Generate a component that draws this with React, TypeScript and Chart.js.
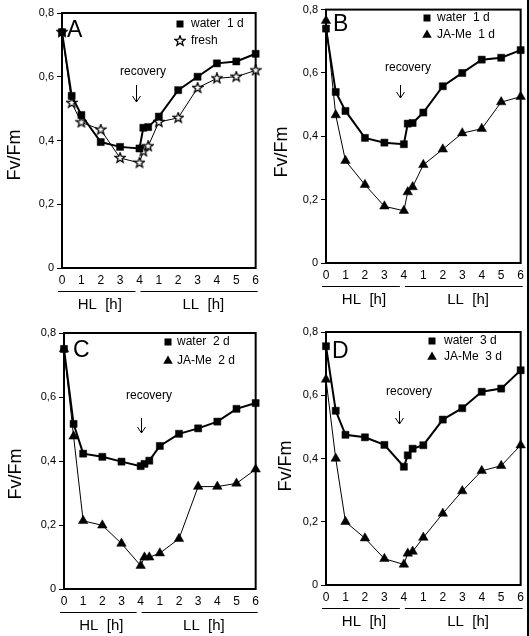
import React, { useEffect, useRef } from 'react';
import { Chart, registerables } from 'chart.js';
Chart.register(...registerables);

// ---- data ----
const hlHours = [0, 0.5, 1, 2, 3, 4];
const llHours = [0.2, 0.45, 1, 2, 3, 4, 5, 6];
const xTickLabels = ['0', '1', '2', '3', '4', '1', '2', '3', '4', '5', '6'];
const yTickLabels = ['0', '0,2', '0,4', '0,6', '0,8'];

const water1d = [0.74, 0.54, 0.48, 0.395, 0.38, 0.375, 0.44, 0.442, 0.475, 0.558, 0.6, 0.642, 0.648, 0.672];
const fresh = [0.74, 0.518, 0.457, 0.434, 0.345, 0.33, 0.366, 0.382, 0.458, 0.471, 0.565, 0.595, 0.6, 0.62];
const jaMe1d = [0.765, 0.467, 0.323, 0.247, 0.179, 0.165, 0.224, 0.24, 0.31, 0.359, 0.41, 0.424, 0.508, 0.525];
const water2d = [0.75, 0.516, 0.423, 0.413, 0.398, 0.384, 0.391, 0.401, 0.447, 0.485, 0.502, 0.523, 0.563, 0.581];
const jaMe2d = [0.75, 0.477, 0.213, 0.199, 0.142, 0.073, 0.099, 0.099, 0.112, 0.157, 0.32, 0.32, 0.33, 0.374];
const water3d = [0.755, 0.551, 0.475, 0.467, 0.443, 0.374, 0.41, 0.431, 0.442, 0.523, 0.559, 0.611, 0.621, 0.679];
const jaMe3d = [0.65, 0.4, 0.2, 0.148, 0.083, 0.065, 0.1, 0.106, 0.15, 0.226, 0.297, 0.361, 0.377, 0.442];

const xPositions = [...hlHours, ...llHours.map((h) => 4 + h)];

const FONT = "'Liberation Sans', Arial, Helvetica, sans-serif";

function makeStar(size: number) {
  const c = document.createElement('canvas');
  c.width = size;
  c.height = size;
  const ctx = c.getContext('2d')!;
  const cx = size / 2, cy = size / 2, R = size / 2 - 0.8, r = R * 0.42;
  ctx.beginPath();
  for (let i = 0; i < 10; i++) {
    const ang = -Math.PI / 2 + (i * Math.PI) / 5;
    const rad = i % 2 === 0 ? R : r;
    ctx.lineTo(cx + rad * Math.cos(ang), cy + rad * Math.sin(ang));
  }
  ctx.closePath();
  ctx.fillStyle = '#fff';
  ctx.fill();
  ctx.strokeStyle = '#000';
  ctx.lineWidth = 1.3;
  ctx.stroke();
  return c;
}

type Series = { label: string; values: number[]; style: string; thick: boolean };

const panels = [
  {
    letter: 'A', left: 0, top: 0, w: 264, h: 318,
    area: { l: 62, r: 257, t: 13, b: 268 },
    series: [
      { label: 'water  1 d', values: water1d, style: 'rect', thick: true },
      { label: 'fresh', values: fresh, style: 'star', thick: false },
    ] as Series[],
    legend: { x: 180, y: 24, tx: 191, dy: 17 },
    letterPos: { x: 67, y: 37 },
    yTitle: { x: 15, y: 155 },
    rec: { tx: 143, ty: 72, ax: 136, ay1: 85, ay2: 102 },
  },
  {
    letter: 'B', left: 264, top: 0, w: 265, h: 318,
    area: { l: 62, r: 258, t: 7, b: 263 },
    series: [
      { label: 'water  1 d', values: water1d, style: 'rect', thick: true },
      { label: 'JA-Me  1 d', values: jaMe1d, style: 'triangle', thick: false },
    ] as Series[],
    legend: { x: 163, y: 18, tx: 173, dy: 17 },
    letterPos: { x: 69, y: 31 },
    yTitle: { x: 18, y: 152 },
    rec: { tx: 144, ty: 68, ax: 136, ay1: 85, ay2: 98 },
  },
  {
    letter: 'C', left: 0, top: 318, w: 264, h: 318,
    area: { l: 64, r: 257, t: 15, b: 271 },
    series: [
      { label: 'water  2 d', values: water2d, style: 'rect', thick: true },
      { label: 'JA-Me  2 d', values: jaMe2d, style: 'triangle', thick: false },
    ] as Series[],
    legend: { x: 168, y: 24, tx: 177, dy: 19 },
    letterPos: { x: 73, y: 39 },
    yTitle: { x: 16, y: 156 },
    rec: { tx: 149, ty: 78, ax: 141, ay1: 100, ay2: 115 },
  },
  {
    letter: 'D', left: 264, top: 318, w: 265, h: 318,
    area: { l: 62, r: 257, t: 14, b: 267 },
    series: [
      { label: 'water  3 d', values: water3d, style: 'rect', thick: true },
      { label: 'JA-Me  3 d', values: jaMe3d, style: 'triangle', thick: false },
    ] as Series[],
    legend: { x: 168, y: 23, tx: 180, dy: 16 },
    letterPos: { x: 68, y: 40 },
    yTitle: { x: 22, y: 148 },
    rec: { tx: 145, ty: 74, ax: 135, ay1: 93, ay2: 106 },
  },
];

function drawMarker(ctx: CanvasRenderingContext2D, style: string, x: number, y: number, star: HTMLCanvasElement) {
  ctx.save();
  ctx.fillStyle = '#000';
  if (style === 'rect') {
    ctx.fillRect(x - 3.5, y - 3.5, 7, 7);
  } else if (style === 'triangle') {
    const r = 5.5;
    ctx.beginPath();
    ctx.moveTo(x, y - r);
    ctx.lineTo(x + r * Math.sin((2 * Math.PI) / 3), y + r / 2);
    ctx.lineTo(x - r * Math.sin((2 * Math.PI) / 3), y + r / 2);
    ctx.closePath();
    ctx.fill();
  } else {
    ctx.drawImage(star, x - star.width / 2, y - star.height / 2);
  }
  ctx.restore();
}

function Panel({ p }: { p: (typeof panels)[number] }) {
  const ref = useRef<HTMLCanvasElement>(null);
  useEffect(() => {
    const canvas = ref.current!;
    const star = makeStar(12);
    const xh = 20;
    const a = p.area;
    const decor = {
      id: 'decor' + p.letter,
      beforeDatasetsDraw(chart: any) {
        const { ctx, chartArea: ca } = chart;
        ctx.save();
        ctx.strokeStyle = '#000';
        ctx.lineWidth = 2;
        ctx.strokeRect(ca.left, ca.top, ca.right - ca.left, ca.bottom - ca.top);
        ctx.restore();
      },
      afterDraw(chart: any) {
        const { ctx, chartArea: ca } = chart;
        const xs = chart.scales.x;
        ctx.save();
        ctx.fillStyle = '#000';
        ctx.strokeStyle = '#000';
        // panel letter
        ctx.font = `23px ${FONT}`;
        ctx.textAlign = 'left';
        ctx.textBaseline = 'alphabetic';
        ctx.fillText(p.letter, p.letterPos.x, p.letterPos.y);
        // y title
        ctx.save();
        ctx.translate(p.yTitle.x, p.yTitle.y);
        ctx.rotate(-Math.PI / 2);
        ctx.font = `18px ${FONT}`;
        ctx.textAlign = 'center';
        ctx.textBaseline = 'middle';
        ctx.fillText('Fv/Fm', 0, 0);
        ctx.restore();
        // legend
        p.series.forEach((s, i) => {
          const y = p.legend.y + i * p.legend.dy;
          drawMarker(ctx, s.style, p.legend.x, y, star);
          ctx.font = `12px ${FONT}`;
          ctx.textAlign = 'left';
          ctx.textBaseline = 'middle';
          ctx.fillText(s.label, p.legend.tx, y);
        });
        // recovery
        const r = p.rec;
        ctx.font = `12px ${FONT}`;
        ctx.textAlign = 'center';
        ctx.textBaseline = 'middle';
        ctx.fillText('recovery', r.tx, r.ty);
        ctx.lineWidth = 1;
        ctx.beginPath();
        ctx.moveTo(r.ax + 0.5, r.ay1);
        ctx.lineTo(r.ax + 0.5, r.ay2);
        ctx.moveTo(r.ax + 0.5 - 4, r.ay2 - 6);
        ctx.lineTo(r.ax + 0.5, r.ay2);
        ctx.lineTo(r.ax + 0.5 + 4, r.ay2 - 6);
        ctx.stroke();
        // HL / LL
        const x4 = xs.getPixelForValue(4);
        const ly = ca.bottom + 23 + 0.5;
        ctx.beginPath();
        ctx.moveTo(ca.left - 4, ly);
        ctx.lineTo(x4 - 4, ly);
        ctx.moveTo(x4 + 1, ly);
        ctx.lineTo(ca.right + 2, ly);
        ctx.stroke();
        ctx.font = `15px ${FONT}`;
        ctx.textAlign = 'center';
        ctx.textBaseline = 'middle';
        ctx.fillText('HL  [h]', xs.getPixelForValue(1.95), ca.bottom + 37);
        ctx.fillText('LL  [h]', xs.getPixelForValue(7.3), ca.bottom + 37);
        ctx.restore();
      },
    };
    const chart = new Chart(canvas, {
      type: 'line',
      data: {
        datasets: p.series.map((s) => ({
          label: s.label,
          data: xPositions.map((x, i) => ({ x, y: s.values[i] })),
          borderColor: '#000',
          backgroundColor: '#000',
          borderWidth: s.thick ? 2 : 1,
          pointStyle: s.style === 'star' ? star : s.style,
          pointRadius: s.style === 'triangle' ? 5.5 : 5,
          pointBorderWidth: 0.5,
          pointBackgroundColor: '#000',
          pointBorderColor: '#000',
          tension: 0,
          clip: false as any,
        })),
      },
      options: {
        animation: false,
        responsive: false,
        maintainAspectRatio: false,
        devicePixelRatio: 1,
        layout: { padding: { left: 0, top: a.t, right: p.w - a.r, bottom: p.h - a.b - xh } },
        plugins: { legend: { display: false }, tooltip: { enabled: false } },
        scales: {
          x: {
            type: 'linear',
            min: 0,
            max: 10,
            afterFit: (s: any) => { s.height = xh; },
            grid: { display: false, drawTicks: false },
            border: { display: false },
            ticks: {
              stepSize: 1,
              autoSkip: false,
              maxRotation: 0,
              padding: 5,
              color: '#000',
              font: { family: FONT, size: 12 },
              callback: (v: any) => xTickLabels[Math.round(Number(v))] ?? '',
            },
          },
          y: {
            type: 'linear',
            min: 0,
            max: 0.8,
            afterFit: (s: any) => { s.width = a.l; },
            grid: { drawOnChartArea: false, drawTicks: true, tickLength: 5, color: '#000', lineWidth: 1 },
            border: { display: false },
            ticks: {
              stepSize: 0.2,
              padding: 3,
              color: '#000',
              font: { family: FONT, size: 11 },
              callback: (v: any) => yTickLabels[Math.round(Number(v) / 0.2)] ?? '',
            },
          },
        },
      } as any,
      plugins: [decor],
    });
    return () => chart.destroy();
  }, []);
  return (
    <div style={{ position: 'absolute', left: p.left, top: p.top, width: p.w, height: p.h }}>
      <canvas ref={ref} width={p.w} height={p.h} style={{ display: 'block', width: p.w, height: p.h }} />
    </div>
  );
}

export default function App() {
  return (
    <div style={{ position: 'absolute', left: 0, top: 0, width: 529, height: 636, background: '#fff', overflow: 'hidden' }}>
      {panels.map((p) => (
        <Panel key={p.letter} p={p} />
      ))}
      <div style={{ position: 'absolute', left: 527, top: 0, width: 2, height: 636, background: '#000' }} />
    </div>
  );
}
